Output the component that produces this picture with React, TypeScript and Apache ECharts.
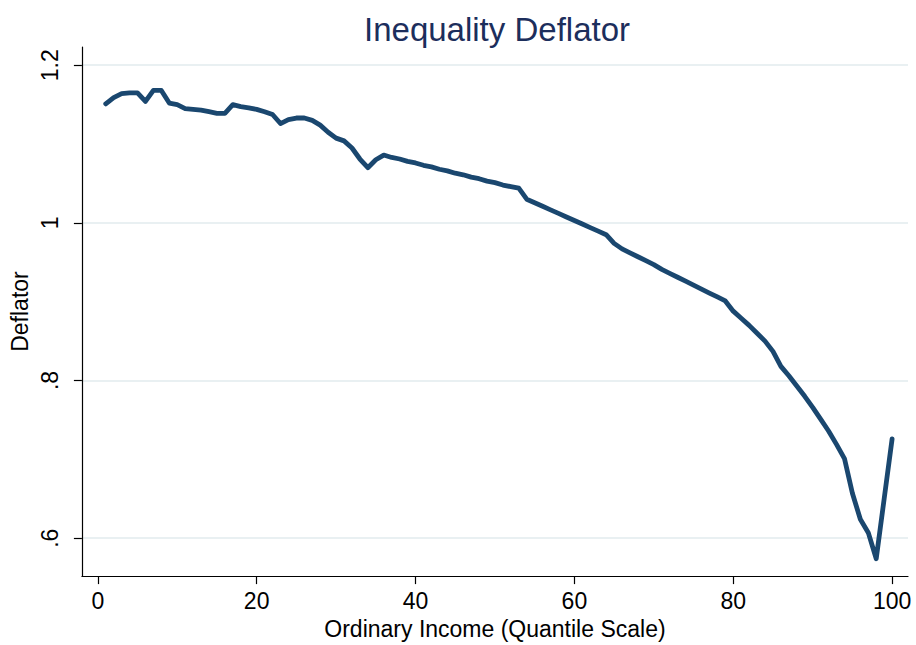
import React, { useEffect, useRef } from "react";
import * as echarts from "echarts";

const quantiles: number[] = Array.from({ length: 100 }, (_, i) => i + 1);
const deflator: number[] = [
  1.151, 1.159, 1.164, 1.165, 1.165, 1.154, 1.168, 1.168, 1.152, 1.15,
  1.145, 1.144, 1.143, 1.141, 1.139, 1.139, 1.15, 1.1475, 1.146, 1.144,
  1.141, 1.1375, 1.126, 1.131, 1.133, 1.133, 1.13, 1.124, 1.115, 1.1075,
  1.104, 1.095, 1.081, 1.07, 1.08, 1.086, 1.083, 1.081, 1.078, 1.076,
  1.073, 1.071, 1.068, 1.066, 1.063, 1.061, 1.058, 1.056, 1.053, 1.051,
  1.048, 1.046, 1.044, 1.03, 1.0255, 1.021, 1.0165, 1.012, 1.0075, 1.003,
  0.9985, 0.994, 0.9895, 0.985, 0.974, 0.967, 0.962, 0.957, 0.952, 0.947,
  0.941, 0.936, 0.931, 0.926, 0.921, 0.916, 0.911, 0.906, 0.901, 0.888,
  0.879, 0.87, 0.86, 0.85, 0.837, 0.818, 0.806, 0.793, 0.78, 0.766,
  0.751, 0.736, 0.719, 0.701, 0.657, 0.624, 0.607, 0.574, 0.65, 0.726,
];
const xTicks: number[] = [0, 20, 40, 60, 80, 100];
const yTicks: number[] = [0.6, 0.8, 1, 1.2];
const yTickLabels: string[] = [".6", ".8", "1", "1.2"];

const FONT = "'Liberation Sans', Arial, Helvetica, sans-serif";

export default function App() {
  const ref = useRef<HTMLDivElement>(null);
  useEffect(() => {
    if (!ref.current) return;
    const chart = echarts.init(ref.current, null, { renderer: "svg" });
    chart.setOption({
      animation: false,
      backgroundColor: "#ffffff",
      title: {
        text: "Inequality Deflator",
        left: 492,
        textAlign: "center",
        top: 8,
        textStyle: { color: "#1c2e5c", fontSize: 33, fontWeight: "normal", fontFamily: FONT },
      },
      grid: { left: 76, right: 8, top: 47, bottom: 61, containLabel: false },
      xAxis: {
        type: "value",
        min: -2,
        max: 102,
        name: "Ordinary Income (Quantile Scale)",
        nameLocation: "middle",
        nameGap: 39,
        nameTextStyle: { color: "#000", fontSize: 23, fontFamily: FONT },
        axisLine: { show: true, onZero: false, lineStyle: { color: "#000", width: 1.2 } },
        axisTick: { show: true, length: 8, customValues: xTicks, lineStyle: { color: "#000", width: 1.2 } },
        axisLabel: {
          customValues: xTicks,
          color: "#000",
          fontSize: 23,
          fontFamily: FONT,
          margin: 13,
        },
        splitLine: { show: false },
      },
      yAxis: {
        type: "value",
        min: 0.5519,
        max: 1.2231,
        name: "Deflator",
        nameLocation: "middle",
        nameGap: 45,
        nameRotate: 90,
        nameTextStyle: { color: "#000", fontSize: 23, fontFamily: FONT },
        axisLine: { show: true, onZero: false, lineStyle: { color: "#000", width: 1.2 } },
        axisTick: { show: true, length: 8, customValues: yTicks, lineStyle: { color: "#000", width: 1.2 } },
        axisLabel: {
          customValues: yTicks,
          rotate: 90,
          color: "#000",
          fontSize: 23,
          fontFamily: FONT,
          margin: 20,
          formatter: (v: number) => {
            const i = yTicks.findIndex((t) => Math.abs(t - v) < 1e-6);
            return i >= 0 ? yTickLabels[i] : "";
          },
        },
        splitLine: { show: true, lineStyle: { color: "#e9f0f2", width: 2 } },
      },
      series: [
        {
          type: "line",
          data: quantiles.map((q, i) => [q, deflator[i]]),
          showSymbol: false,
          symbol: "none",
          lineStyle: { color: "#1a476f", width: 4.8, join: "round", cap: "round" },
        },
      ],
    });
    return () => chart.dispose();
  }, []);
  return (
    <div
      ref={ref}
      style={{ position: "absolute", left: 0, top: 0, width: 916, height: 645 }}
    />
  );
}
